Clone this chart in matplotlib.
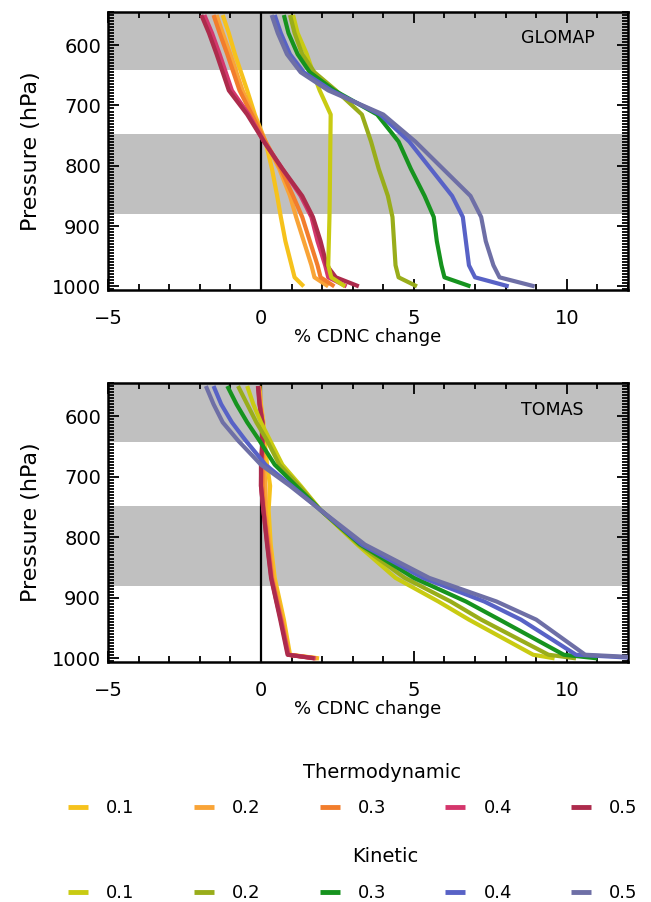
import matplotlib
matplotlib.use("Agg")
import matplotlib.pyplot as plt
from matplotlib.ticker import MultipleLocator, FixedLocator
from matplotlib.lines import Line2D

plt.rcParams['font.family'] = ['DejaVu Sans']

# ---- data -------------------------------------------------------------
updraft_labels = ['0.1', '0.2', '0.3', '0.4', '0.5']

thermo_colors = ['#f6c21c', '#f9a437', '#f27d2c', '#d4366c', '#ad2b4c']
kinetic_colors = ['#c9cb12', '#99ad1a', '#16931e', '#5862c6', '#6e6fa6']

# GLOMAP pressure levels (hPa)
p_glomap = [550, 580, 615, 645, 675, 715, 760, 805, 850, 885, 925, 965, 985, 1000]

glomap_thermo = [
    [-1.25, -1.05, -0.85, -0.65, -0.45, -0.20, 0.15, 0.36, 0.53, 0.65, 0.80, 1.00, 1.10, 1.40],
    [-1.45, -1.25, -1.00, -0.80, -0.60, -0.25, 0.15, 0.60, 0.95, 1.15, 1.40, 1.65, 1.75, 2.20],
    [-1.55, -1.35, -1.10, -0.90, -0.70, -0.30, 0.15, 0.65, 1.05, 1.35, 1.60, 1.85, 1.95, 2.40],
    [-1.85, -1.60, -1.35, -1.15, -0.95, -0.40, 0.10, 0.70, 1.30, 1.65, 1.85, 2.10, 2.20, 2.80],
    [-1.95, -1.70, -1.45, -1.25, -1.05, -0.45, 0.10, 0.70, 1.35, 1.70, 1.95, 2.15, 2.45, 3.20],
]
glomap_kinetic = [
    [1.05, 1.20, 1.50, 1.70, 1.92, 2.28, 2.27, 2.26, 2.25, 2.24, 2.22, 2.20, 2.30, 2.75],
    [0.95, 1.10, 1.35, 1.75, 2.45, 3.30, 3.60, 3.85, 4.15, 4.30, 4.35, 4.40, 4.50, 5.10],
    [0.75, 0.90, 1.20, 1.60, 2.40, 3.80, 4.50, 4.90, 5.35, 5.65, 5.75, 5.90, 6.00, 6.85],
    [0.45, 0.65, 0.95, 1.40, 2.30, 3.90, 4.85, 5.55, 6.25, 6.60, 6.70, 6.80, 7.00, 8.10],
    [0.35, 0.55, 0.85, 1.30, 2.20, 4.00, 5.05, 5.95, 6.85, 7.20, 7.35, 7.60, 7.80, 8.95],
]

# TOMAS pressure levels (hPa)
p_tomas = [550, 580, 610, 640, 680, 715, 755, 812, 867, 906, 936, 994, 1000]

tomas_thermo = [
    [-0.05, 0.00, 0.08, 0.12, 0.20, 0.30, 0.25, 0.32, 0.45, 0.62, 0.75, 0.95, 1.90],
    [-0.07, -0.02, 0.06, 0.08, 0.10, 0.15, 0.15, 0.28, 0.40, 0.57, 0.70, 0.92, 1.85],
    [-0.08, -0.03, 0.05, 0.06, 0.05, 0.05, 0.10, 0.24, 0.36, 0.53, 0.67, 0.90, 1.80],
    [-0.09, -0.04, 0.05, 0.05, 0.01, 0.00, 0.08, 0.21, 0.34, 0.51, 0.65, 0.89, 1.78],
    [-0.10, -0.05, 0.05, 0.05, 0.00, 0.00, 0.08, 0.20, 0.33, 0.50, 0.63, 0.87, 1.75],
]
tomas_kinetic = [
    [-0.45, -0.25, 0.00, 0.30, 0.70, 1.30, 1.95, 3.15, 4.40, 5.80, 6.80, 8.90, 9.60],
    [-0.75, -0.45, -0.15, 0.20, 0.60, 1.25, 1.95, 3.20, 4.70, 6.20, 7.20, 9.40, 10.30],
    [-1.10, -0.80, -0.45, -0.05, 0.45, 1.15, 1.95, 3.25, 5.00, 6.70, 7.80, 9.90, 11.00],
    [-1.55, -1.30, -0.95, -0.50, 0.15, 1.00, 1.95, 3.30, 5.30, 7.30, 8.50, 10.30, 12.50],
    [-1.80, -1.55, -1.25, -0.75, 0.00, 0.95, 1.95, 3.40, 5.50, 7.70, 9.00, 10.60, 13.00],
]

# shaded pressure layers (hPa)
bands = [(545, 642), (748, 880)]

x_range = (-5, 12)
p_range = (1006, 545)

# ---- figure -------------------------------------------------------------
W, H = 651, 902
fig = plt.figure(figsize=(W / 100, H / 100), dpi=100)


def fx(px):
    return px / W


def fy(py):
    return 1 - py / H


ax_top = fig.add_axes([fx(108), fy(290), fx(628) - fx(108), fy(12) - fy(290)])
ax_bot = fig.add_axes([fx(108), fy(662), fx(628) - fx(108), fy(383) - fy(662)])

panels = [
    (ax_top, p_glomap, glomap_thermo, glomap_kinetic, 'GLOMAP'),
    (ax_bot, p_tomas, tomas_thermo, tomas_kinetic, 'TOMAS'),
]

for ax, plev, thermo, kinetic, name in panels:
    for lo, hi in bands:
        ax.axhspan(lo, hi, color='#c0c0c0', lw=0, zorder=0)
    ax.axvline(0, color='black', lw=1.6, zorder=1)
    for vals, c in zip(thermo, thermo_colors):
        ax.plot(vals, plev, color=c, lw=3.0, solid_capstyle='butt', zorder=2)
    for vals, c in zip(kinetic, kinetic_colors):
        ax.plot(vals, plev, color=c, lw=3.0, solid_capstyle='butt', zorder=3)

    ax.set_xlim(*x_range)
    ax.set_ylim(*p_range)
    ax.xaxis.set_major_locator(FixedLocator([-5, 0, 5, 10]))
    ax.xaxis.set_minor_locator(MultipleLocator(1))
    ax.yaxis.set_major_locator(FixedLocator([600, 700, 800, 900, 1000]))
    ax.yaxis.set_minor_locator(MultipleLocator(5))
    ax.tick_params(which='both', direction='in', top=True, right=True,
                   width=1.3, labelsize=14, colors='black')
    ax.tick_params(which='major', length=8)
    ax.tick_params(axis='x', which='major', pad=14)
    ax.tick_params(axis='y', which='major', pad=5)
    ax.tick_params(which='minor', length=4)
    for s in ax.spines.values():
        s.set_linewidth(1.8)
    ax.set_xlabel('% CDNC change', fontsize=13, labelpad=0)
    ax.set_ylabel('Pressure (hPa)', fontsize=16, labelpad=8)
    ax.text(0.795, 0.905, name, transform=ax.transAxes, fontsize=12.5,
            ha='left', va='center', zorder=5)

# ---- legends --------------------------------------------------------------
def make_legend(colors, title, title_xy, row_y):
    fig.text(fx(title_xy[0]), fy(title_xy[1]), title, fontsize=14,
             ha='center', va='center')
    handles = [Line2D([], [], color=c, lw=3.5, solid_capstyle='butt') for c in colors]
    fig.legend(handles, updraft_labels, ncol=5, frameon=False,
               loc='center left', bbox_to_anchor=(fx(68), fy(row_y)),
               borderaxespad=0, borderpad=0,
               fontsize=13, handlelength=1.11, handletextpad=1.0,
               columnspacing=3.28)


make_legend(thermo_colors, 'Thermodynamic', (382, 772), 808)
make_legend(kinetic_colors, 'Kinetic', (385, 857), 893)

fig.savefig('out.png', dpi=100)
